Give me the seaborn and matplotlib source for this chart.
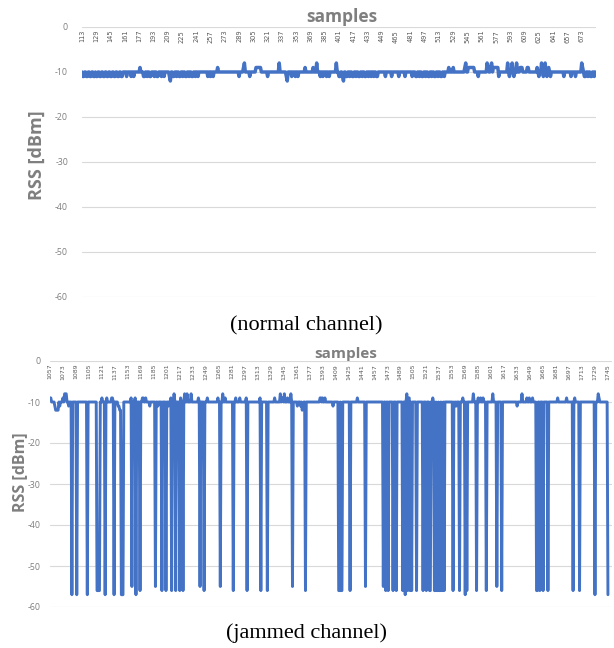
import numpy as np
import pandas as pd
import matplotlib
matplotlib.use("Agg")
import matplotlib.pyplot as plt
import seaborn as sns

# ---------------- data ----------------
# normal channel: samples 113..688, baseline -10 dBm, listed samples deviate
normal_first, normal_last = 113, 688
normal_base = -10
normal_at_m8 = [295, 334, 376, 398, 543, 567, 572, 590, 595, 600, 628, 632, 673]
normal_at_m9 = [178, 265, 294, 308, 309, 310, 311, 312, 313, 363, 372, 524, 529, 542,
                546, 547, 548, 549, 550, 551, 552, 568, 571, 574, 575, 576, 577, 578,
                579, 604, 605, 606, 612, 613, 623, 636, 674]
normal_at_m11 = [114, 115, 118, 119, 122, 123, 126, 127, 129, 130, 133, 134, 137, 138,
                 141, 142, 145, 146, 149, 150, 153, 154, 157, 158, 163, 168, 171,
                 182, 183, 186, 189, 190, 194, 197, 198, 202, 205, 211,
                 215, 216, 219, 222, 223, 226, 229, 230, 233, 236, 237, 240, 243,
                 254, 257, 260, 289, 301, 321, 342, 348, 352, 355,
                 380, 383, 387, 390, 401, 402, 405, 409, 410, 413, 416, 417, 420,
                 423, 424, 427, 430, 431, 434, 437, 440, 443, 444,
                 453, 460, 468, 475, 483, 487, 488, 491, 494, 495, 498, 501, 502,
                 505, 508, 509, 512, 515, 516, 519, 557, 580, 592, 597,
                 625, 630, 634, 638, 653, 661, 666, 676, 677, 680, 683, 684, 687]
normal_at_m12 = [212, 343, 406]
normal_ticks = [113, 129, 145, 161, 177, 193, 209, 225, 241, 257, 273, 289, 305, 321,
                337, 353, 369, 385, 401, 417, 433, 449, 465, 481, 497, 513, 529, 545,
                561, 577, 593, 609, 625, 641, 657, 673]

# jammed channel: samples 1057..1745, baseline -10 dBm
jam_first, jam_last = 1057, 1745
jam_base = -10
jam_at_m8 = [1075, 1076, 1077, 1210, 1223, 1226, 1231, 1270, 1341, 1346, 1354, 1497,
             1579, 1603, 1639, 1733]
jam_at_m9 = [1057, 1058, 1073, 1121, 1127, 1133, 1134, 1157, 1162, 1171, 1172, 1175,
             1206, 1218, 1240, 1251, 1264, 1273, 1286, 1291, 1299, 1316, 1334, 1343,
             1344, 1350, 1390, 1391, 1393, 1396, 1436, 1499, 1500, 1529, 1566, 1585,
             1588, 1591, 1645, 1648, 1652, 1683, 1694, 1704, 1734]
jam_at_m11 = [1063, 1069, 1080, 1141, 1142, 1180, 1190, 1203, 1362, 1366, 1369, 1406,
              1556, 1558, 1633]
jam_at_m12 = [1064, 1065, 1066, 1067, 1143, 1144, 1368]
jam_at_m55 = [1158, 1187, 1242, 1267, 1356, 1446, 1468, 1608]
jam_at_m56 = [1115, 1116, 1117, 1118, 1168, 1195, 1200, 1207, 1212, 1217, 1221, 1247,
              1283, 1300, 1317, 1325, 1372, 1413, 1414, 1416, 1417, 1427, 1471, 1474,
              1480, 1484, 1492, 1498, 1501, 1503, 1509, 1517, 1521, 1525, 1526, 1531,
              1532, 1534, 1535, 1537, 1538, 1540, 1541, 1543, 1554, 1562, 1571, 1583,
              1595, 1614, 1657, 1658, 1661, 1665, 1671, 1702, 1710]
jam_at_m57 = [1084, 1090, 1103, 1125, 1136, 1145, 1146, 1147, 1163, 1495, 1569, 1729, 1745]
jam_ticks = [1057, 1073, 1089, 1105, 1121, 1137, 1153, 1169, 1185, 1201, 1217, 1233,
             1249, 1265, 1281, 1297, 1313, 1329, 1345, 1361, 1377, 1393, 1409, 1425,
             1441, 1457, 1473, 1489, 1505, 1521, 1537, 1553, 1569, 1585, 1601, 1617,
             1633, 1649, 1665, 1681, 1697, 1713, 1729, 1745]

y_ticks = [0, -10, -20, -30, -40, -50, -60]


def build(first, last, base, groups):
    s = np.arange(first, last + 1)
    v = np.full(len(s), float(base))
    for level, samples in groups:
        for smp in samples:
            v[smp - first] = level
    return pd.DataFrame({"sample": s, "rss": v})


normal_df = build(normal_first, normal_last, normal_base,
                  [(-8, normal_at_m8), (-9, normal_at_m9),
                   (-11, normal_at_m11), (-12, normal_at_m12)])
jam_df = build(jam_first, jam_last, jam_base,
               [(-8, jam_at_m8), (-9, jam_at_m9), (-11, jam_at_m11), (-12, jam_at_m12),
                (-55, jam_at_m55), (-56, jam_at_m56), (-57, jam_at_m57)])

# ---------------- style ----------------
sns.set_theme(style="white")
plt.rcParams["font.family"] = ["Open Sans", "DejaVu Sans"]

W, H = 614, 648
fig = plt.figure(figsize=(W / 100, H / 100), dpi=100)
BLUE = "#4472C4"
GRID = "#d9d9d9"
TXT = "#7f7f7f"


def px_axes(x0, y0, x1, y1):
    return fig.add_axes([x0 / W, 1 - y1 / H, (x1 - x0) / W, (y1 - y0) / H])


def style(ax, df, ticks, first, xmax, ypad, lw, xls):
    sns.lineplot(data=df, x="sample", y="rss", ax=ax, color=BLUE, linewidth=lw,
                 estimator=None)
    ax.set_xlim(first, xmax)
    ax.set_ylim(-60, 0)
    ax.set_yticks(y_ticks)
    ax.set_yticklabels([str(t) for t in y_ticks])
    ax.grid(axis="y", color=GRID, linewidth=0.8)
    ax.grid(axis="x", visible=False)
    for sp in ax.spines.values():
        sp.set_visible(False)
    ax.tick_params(axis="y", length=0, pad=ypad, labelsize=6.3, labelcolor=TXT)
    ax.xaxis.tick_top()
    ax.set_xticks(ticks)
    ax.set_xticklabels([str(t) for t in ticks])
    ax.tick_params(axis="x", length=0, pad=-2, labelsize=xls, labelcolor="#595959",
                   labelrotation=90)
    for lbl in ax.get_xticklabels():
        lbl.set_va("top")
        lbl.set_family(["Liberation Sans Narrow", "DejaVu Sans"])
    ax.set_xlabel("")
    ax.set_ylabel("")


ax1 = px_axes(82, 27, 596, 297)
style(ax1, normal_df, normal_ticks, normal_first, normal_last + 1, 10, 2.5, 4.8)

ax2 = px_axes(50, 361, 612, 607)
style(ax2, jam_df, jam_ticks, jam_first, jam_last + 5, 7, 2.1, 4.5)

# axis titles
fig.text(342 / W, 1 - 17 / H, "samples", ha="center", va="center",
         fontsize=12.5, fontweight="bold", color=TXT)
fig.text(37 / W, 1 - 155 / H, "RSS [dBm]", ha="center", va="center", rotation=90,
         fontsize=13, fontweight="bold", color=TXT)
fig.text(346 / W, 1 - 354 / H, "samples", ha="center", va="center",
         fontsize=11, fontweight="bold", color=TXT)
fig.text(20 / W, 1 - 472 / H, "RSS [dBm]", ha="center", va="center", rotation=90,
         fontsize=11.5, fontweight="bold", color=TXT)

# captions
fig.text(306 / W, 1 - 326 / H, "(normal channel)", ha="center", va="center",
         fontsize=16, family=["Liberation Serif", "DejaVu Serif"], color="black")
fig.text(306 / W, 1 - 633 / H, "(jammed channel)", ha="center", va="center",
         fontsize=16, family=["Liberation Serif", "DejaVu Serif"], color="black")

fig.savefig("out.png", dpi=100, facecolor="white")
